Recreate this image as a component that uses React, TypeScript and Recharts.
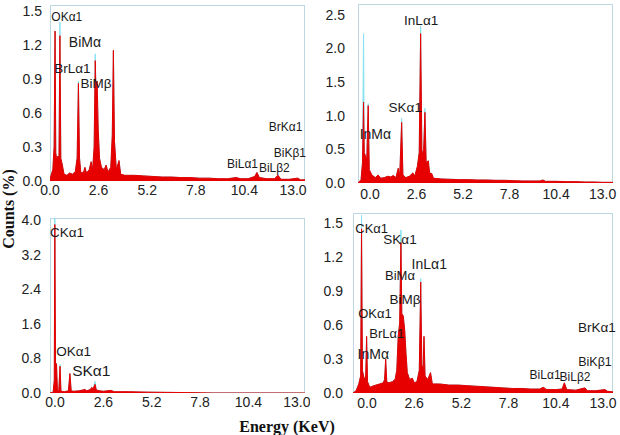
import React from 'react';
import { AreaChart, Area, XAxis, YAxis, ReferenceDot } from 'recharts';

// ---------- Data (energy keV / counts %) ----------
const X_TICKS = [0, 2.6, 5.2, 7.8, 10.4, 13];

// Panel 1 (top-left)
const P1_E = [0,0.15,0.22,0.27,0.31,0.36,0.42,0.48,0.53,0.58,0.65,0.75,0.9,1.05,1.2,1.35,1.45,1.52,1.58,1.65,1.8,1.87,1.95,2.1,2.2,2.28,2.36,2.42,2.46,2.52,2.58,2.65,2.75,2.9,3.0,3.1,3.25,3.33,3.39,3.45,3.55,3.69,3.78,4.0,4.5,5.0,5.5,6.0,6.5,7.0,7.5,8.0,8.5,9.0,9.5,9.95,10.2,10.6,10.95,11.07,11.2,11.6,12.0,12.2,12.35,12.8,13.25,13.4,13.64];
const P1_C = [0.02,0.1,0.3,1.32,0.25,0.18,0.22,0.2,1.28,0.2,0.15,0.06,0.05,0.07,0.06,0.08,0.2,0.86,0.2,0.07,0.08,0.12,0.07,0.1,0.17,0.1,0.3,1.06,0.78,0.88,0.45,0.2,0.12,0.1,0.14,0.08,0.12,0.4,1.15,0.35,0.1,0.18,0.06,0.05,0.05,0.045,0.04,0.035,0.035,0.03,0.03,0.025,0.025,0.02,0.02,0.03,0.02,0.02,0.04,0.075,0.03,0.02,0.02,0.05,0.015,0.015,0.025,0.01,0.01];
const P1_TIP_E = [0.53, 1.52, 2.42];
const P1_TIP_V = [1.4, 0.88, 1.12];
const P1_Y_TICKS = [0, 0.3, 0.6, 0.9, 1.2, 1.5];
const P1_LBL_T = ['OKα1','BiMα','BrLα1','BiMβ','BrKα1','BiKβ1','BiLα1','BiLβ2'];
const P1_LBL_E = [0.9, 1.87, 1.2, 2.46, 12.6, 12.83, 10.3, 12.0];
const P1_LBL_V = [1.45, 1.22, 0.99, 0.86, 0.48, 0.25, 0.15, 0.12];

// Panel 2 (top-right)
const P2_E = [-0.67,-0.5,-0.42,-0.36,-0.32,-0.25,-0.18,-0.1,-0.04,0.1,0.3,0.45,0.6,0.8,1.0,1.15,1.3,1.45,1.58,1.66,1.77,1.84,2.0,2.2,2.4,2.5,2.65,2.75,2.83,2.9,2.98,3.07,3.14,3.26,3.33,3.45,3.55,4.0,4.5,5.0,5.5,6.0,6.5,7.0,7.5,8.0,8.5,9.0,9.5,9.66,9.8,10.4,11.0,11.5,12.0,12.5,13.0,13.58];
const P2_C = [0,0.05,0.3,1.2,0.45,0.4,0.35,1.15,0.2,0.12,0.08,0.12,0.07,0.08,0.1,0.09,0.11,0.08,0.22,0.1,0.9,0.12,0.08,0.1,0.15,0.1,0.25,0.45,2.22,0.5,0.35,1.05,0.3,0.33,0.15,0.14,0.07,0.06,0.055,0.05,0.05,0.045,0.045,0.04,0.04,0.035,0.03,0.03,0.03,0.045,0.025,0.025,0.02,0.02,0.015,0.015,0.01,0.01];
const P2_TIP_E = [-0.36, -0.1, 1.77, 2.83, 3.07];
const P2_TIP_V = [2.22, 1.18, 0.96, 2.33, 1.11];
const P2_Y_TICKS = [0, 0.5, 1.0, 1.5, 2.0, 2.5];
const P2_LBL_T = ['InLα1','SKα1','InMα'];
const P2_LBL_E = [2.86, 1.97, 0.3];
const P2_LBL_V = [2.415, 1.13, 0.73];

// Panel 3 (bottom-left)
const P3_E = [-0.27,-0.1,-0.04,-0.01,0.03,0.08,0.13,0.2,0.27,0.32,0.5,0.72,0.8,0.87,1.0,1.3,1.61,1.7,1.9,1.97,2.05,2.15,2.22,2.4,2.6,3.0,3.2,4.0,5.0,6.0,7.0,7.8,8.5,13.44];
const P3_C = [0,0.02,0.3,3.9,0.5,0.68,0.05,0.04,0.62,0.04,0.03,0.05,0.45,0.05,0.04,0.05,0.08,0.05,0.08,0.13,0.1,0.2,0.07,0.05,0.04,0.06,0.03,0.03,0.02,0.015,0.01,0.005,0,0];
const P3_TIP_E = [-0.01, 0.27, 2.15];
const P3_TIP_V = [4.05, 0.66, 0.27];
const P3_Y_TICKS = [0, 0.8, 1.6, 2.4, 3.2, 4.0];
const P3_LBL_T = ['CKα1','OKα1','SKα1'];
const P3_LBL_E = [0.645, 1.0, 1.95];
const P3_LBL_V = [3.72, 0.96, 0.52];

// Panel 4 (bottom-right)
const P4_E = [-0.77,-0.6,-0.45,-0.35,-0.3,-0.25,-0.15,-0.07,-0.02,0.03,0.15,0.3,0.5,0.7,0.9,0.97,1.03,1.09,1.2,1.4,1.55,1.64,1.72,1.8,1.87,1.92,2.0,2.08,2.15,2.22,2.35,2.5,2.6,2.75,2.88,2.96,3.02,3.09,3.14,3.2,3.35,3.5,3.6,4.0,4.5,5.0,5.5,6.0,6.5,7.0,7.5,8.0,8.5,9.0,9.5,9.71,9.9,10.4,10.75,10.87,11.0,11.5,12.0,12.15,12.6,13.1,13.25,13.55];
const P4_C = [0,0.02,0.08,0.15,1.45,0.2,0.12,0.15,0.5,0.1,0.05,0.06,0.07,0.08,0.09,0.12,0.3,0.1,0.09,0.1,0.12,0.2,0.5,0.62,1.33,0.7,0.68,0.55,0.35,0.18,0.12,0.13,0.09,0.1,0.2,0.98,0.25,0.2,0.5,0.15,0.12,0.18,0.08,0.08,0.07,0.07,0.065,0.06,0.055,0.05,0.045,0.04,0.04,0.035,0.035,0.05,0.03,0.03,0.035,0.09,0.03,0.025,0.045,0.02,0.02,0.03,0.015,0.01];
const P4_TIP_E = [-0.3, 1.87, 2.96];
const P4_TIP_V = [1.57, 1.44, 1.01];
const P4_Y_TICKS = [0, 0.3, 0.6, 0.9, 1.2, 1.5];
const P4_LBL_T = ['CKα1','SKα1','InLα1','BiMα','BiMβ','OKα1','BrLα1','InMα','BrKα1','BiKβ1','BiLα1','BiLβ2'];
const P4_LBL_E = [0.26, 1.82, 3.43, 1.82, 2.09, 0.44, 1.09, 0.35, 12.66, 12.56, 9.81, 11.46];
const P4_LBL_V = [1.455, 1.36, 1.14, 1.04, 0.83, 0.70, 0.53, 0.34, 0.58, 0.28, 0.165, 0.14];

// label font sizes (style)
const P1_LBL_SIZE = [12, 14, 13.5, 13.5, 12, 12, 12, 12];
const P2_LBL_SIZE = [13.5, 13.5, 14];
const P3_LBL_SIZE = [13.5, 13.5, 15.5];
const P4_LBL_SIZE = [13, 13.5, 14, 13, 13.5, 13, 13, 14, 13.5, 12.5, 12, 12];

const RED = '#e60000';
const CYAN = '#86e2f0';
const FRAME = '#bcd6e2';
const TICK_FONT = '"Liberation Sans", Arial, sans-serif';

function buildRows(E: number[], C: number[], tipE: number[], tipV: number[]) {
  return E.map((e, i) => {
    const k = tipE.indexOf(e);
    return { e, c: C[i], t: k >= 0 ? tipV[k] : C[i] };
  });
}

type PanelProps = {
  left: number; top: number; width: number; height: number;
  margin: { top: number; right: number; left: number; bottom: number };
  yWidth: number; xHeight: number;
  xDomain: [number, number]; yDomain: [number, number];
  yTicks: number[]; xTickMargin: number; yTickMargin: number;
  rows: any[]; lblT: string[]; lblE: number[]; lblV: number[]; lblS: number[];
};

function Panel(p: PanelProps) {
  const plotLeft = p.margin.left + p.yWidth;
  const plotTop = p.margin.top;
  const plotW = p.width - p.margin.left - p.margin.right - p.yWidth;
  const plotH = p.height - p.margin.top - p.margin.bottom - p.xHeight;
  const tickStyle = { fontSize: 14, fill: '#222', fontFamily: TICK_FONT };
  return (
    <div style={{ position: 'absolute', left: p.left, top: p.top, width: p.width, height: p.height }}>
      <div style={{ position: 'absolute', left: plotLeft, top: plotTop, width: plotW, height: plotH, border: `1px solid ${FRAME}`, boxSizing: 'border-box' }} />
      <div style={{ position: 'absolute', left: 0, top: 0 }}>
        <AreaChart width={p.width} height={p.height} data={p.rows} margin={p.margin}>
          <XAxis
            dataKey="e" type="number" domain={p.xDomain} ticks={X_TICKS} interval={0}
            allowDataOverflow tickLine={false} tickSize={0} axisLine={false} height={p.xHeight}
            tickMargin={p.xTickMargin} tick={tickStyle}
            tickFormatter={(v: number) => v.toFixed(1)}
          />
          <YAxis
            type="number" domain={p.yDomain} ticks={p.yTicks} interval={0}
            allowDataOverflow tickLine={false} tickSize={0} axisLine={false} width={p.yWidth}
            tickMargin={p.yTickMargin} tick={tickStyle}
            tickFormatter={(v: number) => v.toFixed(1)}
          />
          <Area type="linear" dataKey="t" stroke={CYAN} strokeWidth={1} fill={CYAN} fillOpacity={1} dot={false} activeDot={false} isAnimationActive={false} />
          <Area type="linear" dataKey="c" stroke={RED} strokeWidth={1} fill={RED} fillOpacity={1} dot={false} activeDot={false} isAnimationActive={false} />
          {p.lblT.map((t, i) => (
            <ReferenceDot
              key={t + i} x={p.lblE[i]} y={p.lblV[i]} r={0} fill="none" stroke="none"
              ifOverflow="visible"
              label={{ value: t, position: 'center', fontSize: p.lblS[i], fill: '#1a1a1a', fontFamily: TICK_FONT }}
            />
          ))}
        </AreaChart>
      </div>
    </div>
  );
}

export default function App() {
  return (
    <div style={{ position: 'absolute', left: 0, top: 0, width: 620, height: 435, background: '#fff', overflow: 'hidden' }}>
      <Panel
        left={0} top={0} width={310} height={205}
        margin={{ top: 5, right: 5, left: 0, bottom: 0 }} yWidth={50} xHeight={24}
        xDomain={[0, 13.64]} yDomain={[0, 1.55]} yTicks={P1_Y_TICKS}
        xTickMargin={4} yTickMargin={8}
        rows={buildRows(P1_E, P1_C, P1_TIP_E, P1_TIP_V)}
        lblT={P1_LBL_T} lblE={P1_LBL_E} lblV={P1_LBL_V} lblS={P1_LBL_SIZE}
      />
      <Panel
        left={310} top={0} width={310} height={205}
        margin={{ top: 4, right: 7, left: 0, bottom: 0 }} yWidth={48} xHeight={22}
        xDomain={[-0.67, 13.58]} yDomain={[0, 2.66]} yTicks={P2_Y_TICKS}
        xTickMargin={6} yTickMargin={13}
        rows={buildRows(P2_E, P2_C, P2_TIP_E, P2_TIP_V)}
        lblT={P2_LBL_T} lblE={P2_LBL_E} lblV={P2_LBL_V} lblS={P2_LBL_SIZE}
      />
      <Panel
        left={0} top={205} width={310} height={215}
        margin={{ top: 13, right: 5, left: 0, bottom: 0 }} yWidth={50} xHeight={27}
        xDomain={[-0.27, 13.44]} yDomain={[0, 4.05]} yTicks={P3_Y_TICKS}
        xTickMargin={4} yTickMargin={9}
        rows={buildRows(P3_E, P3_C, P3_TIP_E, P3_TIP_V)}
        lblT={P3_LBL_T} lblE={P3_LBL_E} lblV={P3_LBL_V} lblS={P3_LBL_SIZE}
      />
      <Panel
        left={310} top={205} width={310} height={215}
        margin={{ top: 8, right: 7, left: 0, bottom: 0 }} yWidth={43} xHeight={27}
        xDomain={[-0.77, 13.55]} yDomain={[0, 1.59]} yTicks={P4_Y_TICKS}
        xTickMargin={5} yTickMargin={10}
        rows={buildRows(P4_E, P4_C, P4_TIP_E, P4_TIP_V)}
        lblT={P4_LBL_T} lblE={P4_LBL_E} lblV={P4_LBL_V} lblS={P4_LBL_SIZE}
      />
      <svg width={620} height={435} style={{ position: 'absolute', left: 0, top: 0, pointerEvents: 'none' }}>
        <text
          x={0} y={0} transform="translate(14,209) rotate(-90)" textAnchor="middle"
          style={{ fontFamily: '"Liberation Serif", "Times New Roman", serif', fontWeight: 'bold', fontSize: 16, fill: '#111' }}
        >Counts (%)</text>
        <text
          x={287} y={432} textAnchor="middle"
          style={{ fontFamily: '"Liberation Serif", "Times New Roman", serif', fontWeight: 'bold', fontSize: 16, fill: '#111' }}
        >Energy (KeV)</text>
      </svg>
    </div>
  );
}
